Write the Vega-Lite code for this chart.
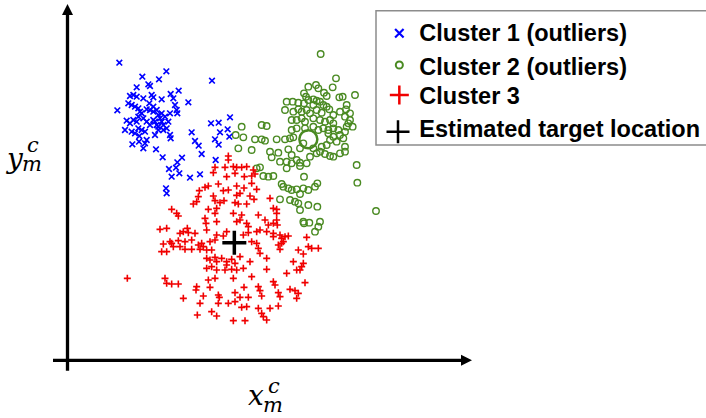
{
  "$schema": "https://vega.github.io/schema/vega-lite/v6.json",
  "width": 706,
  "height": 418,
  "padding": 0,
  "autosize": {"type": "none"},
  "background": "white",
  "config": {"view": {"stroke": null}},
  "datasets": {
    "blue": [
      {"x":58,"y":38},{"x":127,"y":80},{"x":199,"y":64},{"x":177,"y":88},{"x":110,"y":112},{"x":145,"y":103},{"x":150,"y":108},{"x":336,"y":92},{"x":236,"y":122},{"x":265,"y":157},
      {"x":52,"y":181},{"x":90,"y":138},{"x":100,"y":135},{"x":110,"y":140},{"x":130,"y":145},{"x":155,"y":135},{"x":160,"y":142},{"x":185,"y":148},{"x":212,"y":132},{"x":220,"y":145},
      {"x":225,"y":165},{"x":230,"y":180},{"x":232,"y":190},{"x":85,"y":160},{"x":95,"y":165},{"x":105,"y":170},{"x":115,"y":175},{"x":120,"y":185},{"x":125,"y":190},{"x":140,"y":178},
      {"x":150,"y":180},{"x":160,"y":185},{"x":170,"y":180},{"x":175,"y":195},{"x":185,"y":190},{"x":195,"y":200},{"x":210,"y":190},{"x":80,"y":212},{"x":90,"y":220},{"x":100,"y":210},
      {"x":110,"y":215},{"x":115,"y":200},{"x":130,"y":205},{"x":140,"y":215},{"x":150,"y":225},{"x":160,"y":210},{"x":165,"y":215},{"x":170,"y":225},{"x":175,"y":230},{"x":180,"y":205},
      {"x":185,"y":215},{"x":190,"y":225},{"x":200,"y":235},{"x":205,"y":215},{"x":75,"y":240},{"x":95,"y":245},{"x":105,"y":250},{"x":115,"y":235},{"x":125,"y":240},{"x":135,"y":245},
      {"x":140,"y":270},{"x":165,"y":255},{"x":175,"y":240},{"x":190,"y":240},{"x":210,"y":255},{"x":212,"y":265},{"x":97,"y":283},{"x":117,"y":275},{"x":130,"y":295},{"x":135,"y":280},
      {"x":168,"y":298},{"x":188,"y":322},{"x":246,"y":323},{"x":232,"y":337},{"x":228,"y":353},{"x":207,"y":357},{"x":215,"y":380},{"x":238,"y":370},{"x":270,"y":383},{"x":300,"y":373},
      {"x":198,"y":415},{"x":200,"y":430},{"x":275,"y":247},{"x":285,"y":273},{"x":296,"y":287},{"x":305,"y":312},{"x":333,"y":220},{"x":356,"y":218},{"x":390,"y":202},{"x":360,"y":247},
      {"x":383,"y":238},{"x":388,"y":260},{"x":345,"y":268},{"x":356,"y":284},{"x":347,"y":330},{"x":118,"y":258},{"x":148,"y":160},{"x":160,"y":170}
    ],
    "green": [
      {"x":662,"y":12},{"x":708,"y":85},{"x":698,"y":112},{"x":625,"y":110},{"x":648,"y":105},{"x":655,"y":115},{"x":672,"y":128},{"x":680,"y":138},{"x":718,"y":142},{"x":728,"y":140},
      {"x":765,"y":135},{"x":612,"y":130},{"x":618,"y":140},{"x":625,"y":150},{"x":640,"y":148},{"x":650,"y":152},{"x":660,"y":155},{"x":670,"y":165},{"x":680,"y":170},{"x":560,"y":155},
      {"x":578,"y":155},{"x":595,"y":158},{"x":612,"y":160},{"x":640,"y":165},{"x":555,"y":180},{"x":580,"y":185},{"x":595,"y":178},{"x":605,"y":185},{"x":620,"y":180},{"x":630,"y":190},
      {"x":650,"y":180},{"x":665,"y":188},{"x":688,"y":178},{"x":740,"y":165},{"x":738,"y":178},{"x":750,"y":190},{"x":735,"y":200},{"x":720,"y":185},{"x":700,"y":195},{"x":575,"y":210},
      {"x":590,"y":210},{"x":605,"y":205},{"x":615,"y":215},{"x":640,"y":205},{"x":660,"y":210},{"x":675,"y":215},{"x":690,"y":210},{"x":700,"y":220},{"x":750,"y":210},{"x":758,"y":230},
      {"x":745,"y":220},{"x":575,"y":240},{"x":590,"y":235},{"x":615,"y":235},{"x":640,"y":230},{"x":655,"y":240},{"x":670,"y":235},{"x":685,"y":240},{"x":700,"y":235},{"x":715,"y":240},
      {"x":735,"y":245},{"x":740,"y":230},{"x":720,"y":255},{"x":700,"y":260},{"x":685,"y":250},{"x":690,"y":270},{"x":710,"y":275},{"x":730,"y":265},{"x":680,"y":285},{"x":665,"y":290},
      {"x":640,"y":295},{"x":600,"y":295},{"x":610,"y":280},{"x":660,"y":305},{"x":675,"y":312},{"x":690,"y":318},{"x":700,"y":320},{"x":720,"y":310},{"x":735,"y":290},{"x":735,"y":305},
      {"x":425,"y":230},{"x":485,"y":225},{"x":500,"y":228},{"x":407,"y":255},{"x":430,"y":262},{"x":465,"y":268},{"x":485,"y":268},{"x":495,"y":272},{"x":530,"y":268},{"x":555,"y":268},
      {"x":570,"y":265},{"x":580,"y":262},{"x":415,"y":295},{"x":455,"y":300},{"x":510,"y":305},{"x":535,"y":308},{"x":565,"y":298},{"x":575,"y":315},{"x":515,"y":322},{"x":540,"y":335},
      {"x":560,"y":335},{"x":575,"y":340},{"x":590,"y":330},{"x":600,"y":338},{"x":620,"y":340},{"x":630,"y":320},{"x":650,"y":310},{"x":470,"y":355},{"x":480,"y":352},{"x":490,"y":378},
      {"x":505,"y":380},{"x":520,"y":378},{"x":545,"y":402},{"x":550,"y":410},{"x":565,"y":415},{"x":575,"y":420},{"x":590,"y":418},{"x":600,"y":432},{"x":610,"y":415},{"x":625,"y":420},
      {"x":645,"y":410},{"x":652,"y":400},{"x":612,"y":380},{"x":770,"y":345},{"x":772,"y":398},{"x":540,"y":448},{"x":570,"y":450},{"x":585,"y":455},{"x":595,"y":460},{"x":600,"y":480},
      {"x":625,"y":465},{"x":652,"y":470},{"x":610,"y":515},{"x":612,"y":520},{"x":628,"y":518},{"x":660,"y":515},{"x":655,"y":530},{"x":645,"y":545},{"x":828,"y":483},{"x":560,"y":355},
      {"x":600,"y":348}
    ],
    "red": [
      {"x":385,"y":318},{"x":385,"y":330},{"x":345,"y":352},{"x":375,"y":352},{"x":400,"y":350},{"x":410,"y":352},{"x":425,"y":352},{"x":440,"y":350},{"x":460,"y":360},{"x":340,"y":368},
      {"x":380,"y":380},{"x":405,"y":370},{"x":433,"y":380},{"x":455,"y":378},{"x":465,"y":372},{"x":325,"y":408},{"x":355,"y":402},{"x":410,"y":408},{"x":432,"y":414},{"x":455,"y":400},
      {"x":470,"y":418},{"x":298,"y":422},{"x":315,"y":412},{"x":340,"y":438},{"x":370,"y":422},{"x":385,"y":420},{"x":410,"y":436},{"x":420,"y":430},{"x":450,"y":438},{"x":295,"y":440},
      {"x":280,"y":462},{"x":290,"y":455},{"x":345,"y":452},{"x":360,"y":458},{"x":372,"y":452},{"x":405,"y":458},{"x":415,"y":462},{"x":440,"y":462},{"x":462,"y":448},{"x":510,"y":445},
      {"x":520,"y":475},{"x":530,"y":478},{"x":530,"y":490},{"x":215,"y":478},{"x":230,"y":490},{"x":235,"y":498},{"x":325,"y":478},{"x":350,"y":475},{"x":345,"y":490},{"x":400,"y":490},
      {"x":425,"y":495},{"x":420,"y":510},{"x":475,"y":495},{"x":495,"y":510},{"x":505,"y":525},{"x":520,"y":520},{"x":530,"y":510},{"x":532,"y":525},{"x":318,"y":520},{"x":315,"y":505},
      {"x":350,"y":515},{"x":410,"y":515},{"x":440,"y":520},{"x":445,"y":530},{"x":180,"y":538},{"x":200,"y":535},{"x":240,"y":550},{"x":250,"y":545},{"x":262,"y":535},{"x":265,"y":548},
      {"x":285,"y":550},{"x":320,"y":540},{"x":350,"y":555},{"x":380,"y":545},{"x":430,"y":555},{"x":445,"y":548},{"x":470,"y":545},{"x":480,"y":540},{"x":500,"y":545},{"x":520,"y":550},
      {"x":540,"y":555},{"x":545,"y":565},{"x":555,"y":560},{"x":565,"y":558},{"x":550,"y":575},{"x":545,"y":580},{"x":535,"y":585},{"x":520,"y":560},{"x":210,"y":575},{"x":215,"y":580},
      {"x":235,"y":572},{"x":255,"y":575},{"x":275,"y":570},{"x":295,"y":585},{"x":305,"y":580},{"x":310,"y":590},{"x":330,"y":575},{"x":345,"y":570},{"x":370,"y":558},{"x":455,"y":575},
      {"x":190,"y":582},{"x":185,"y":605},{"x":200,"y":605},{"x":220,"y":590},{"x":240,"y":590},{"x":255,"y":598},{"x":275,"y":598},{"x":300,"y":598},{"x":320,"y":600},{"x":335,"y":600},
      {"x":475,"y":595},{"x":480,"y":610},{"x":470,"y":580},{"x":540,"y":598},{"x":595,"y":600},{"x":610,"y":612},{"x":625,"y":590},{"x":635,"y":595},{"x":655,"y":595},{"x":620,"y":562},
      {"x":320,"y":625},{"x":330,"y":630},{"x":345,"y":622},{"x":350,"y":635},{"x":365,"y":625},{"x":380,"y":635},{"x":395,"y":628},{"x":405,"y":640},{"x":420,"y":620},{"x":450,"y":635},
      {"x":500,"y":625},{"x":580,"y":635},{"x":320,"y":655},{"x":335,"y":650},{"x":350,"y":660},{"x":375,"y":660},{"x":380,"y":645},{"x":395,"y":658},{"x":410,"y":660},{"x":430,"y":655},
      {"x":500,"y":658},{"x":560,"y":670},{"x":590,"y":660},{"x":600,"y":660},{"x":605,"y":650},{"x":610,"y":640},{"x":82,"y":685},{"x":195,"y":685},{"x":200,"y":700},{"x":215,"y":702},
      {"x":235,"y":702},{"x":325,"y":690},{"x":345,"y":685},{"x":400,"y":685},{"x":455,"y":680},{"x":520,"y":695},{"x":525,"y":705},{"x":615,"y":698},{"x":290,"y":710},{"x":288,"y":720},
      {"x":330,"y":712},{"x":355,"y":735},{"x":358,"y":742},{"x":405,"y":728},{"x":420,"y":742},{"x":432,"y":712},{"x":445,"y":742},{"x":475,"y":710},{"x":480,"y":722},{"x":485,"y":738},
      {"x":535,"y":728},{"x":540,"y":740},{"x":570,"y":718},{"x":585,"y":722},{"x":595,"y":730},{"x":590,"y":745},{"x":250,"y":745},{"x":310,"y":738},{"x":300,"y":760},{"x":335,"y":785},
      {"x":350,"y":798},{"x":355,"y":760},{"x":385,"y":760},{"x":405,"y":755},{"x":425,"y":772},{"x":440,"y":770},{"x":475,"y":775},{"x":485,"y":790},{"x":490,"y":800},{"x":510,"y":775},
      {"x":535,"y":768},{"x":292,"y":795},{"x":400,"y":812},{"x":435,"y":812},{"x":500,"y":810}
    ],
    "axes": [
      {"x":-97.5,"y":962,"x2":-97.5,"y2":-115},
      {"x":-141,"y":931,"x2":1090,"y2":931}
    ],
    "arrowUp": [{"x":-97.5,"y":-121.5}],
    "arrowRight": [{"x":1099.5,"y":931}],
    "target": [{"x":403,"y":578}],
    "center2": [{"x":625,"y":268}],
    "legbox": [{"x":828,"y":-118,"x2":1830,"y2":285}],
    "leg1": [{"k":"Cluster 1 (outliers)","x":898,"y":-50}],
    "leg2": [{"k":"Cluster 2 (outliers)","x":898,"y":45}],
    "leg3": [{"k":"Cluster 3","x":898,"y":135}],
    "leg4": [{"k":"Estimated target location","x":894,"y":245}],
    "legtxt": [
      {"label":"Cluster 1 (outliers)","x":958,"y":-28},
      {"label":"Cluster 2 (outliers)","x":958,"y":75},
      {"label":"Cluster 3","x":958,"y":162},
      {"label":"Estimated target location","x":958,"y":260}
    ],
    "mainlbl": [
      {"t":"x","x":444,"y":1065},
      {"t":"y","x":-279,"y":354}
    ],
    "scriptlbl": [
      {"t":"m","x":489,"y":1086},
      {"t":"c","x":504,"y":1029},
      {"t":"m","x":-234,"y":363},
      {"t":"c","x":-219,"y":306}
    ]
  },
  "encoding": {
    "x": {"field":"x","type":"quantitative","scale":{"domain":[-300,1818],"nice":false,"zero":false},"axis":null},
    "y": {"field":"y","type":"quantitative","scale":{"domain":[-150,1104],"reverse":true,"nice":false,"zero":false},"axis":null}
  },
  "layer": [
    {
      "data": {"name":"axes"},
      "mark": {"type":"rule","strokeWidth":3.3,"color":"black"},
      "encoding": {"x2":{"field":"x2"},"y2":{"field":"y2"}}
    },
    {
      "data": {"name":"arrowUp"},
      "mark": {"type":"point","shape":"M0,-1L-1,1L1,1Z","filled":true,"color":"black","opacity":1,"size":121}
    },
    {
      "data": {"name":"arrowRight"},
      "mark": {"type":"point","shape":"M1,0L-1,-1L-1,1Z","filled":true,"color":"black","opacity":1,"size":121}
    },
    {
      "data": {"name":"green"},
      "mark": {"type":"point","shape":"circle","filled":false,"color":"#4A8A22","opacity":1,"size":42,"strokeWidth":1.4}
    },
    {
      "data": {"name":"center2"},
      "mark": {"type":"point","shape":"circle","filled":false,"color":"#4A8A22","opacity":1,"size":324,"strokeWidth":2.5}
    },
    {
      "data": {"name":"blue"},
      "mark": {"type":"point","shape":"M-1,-1L1,1M-1,1L1,-1","filled":false,"color":"#0000FF","opacity":1,"size":32,"strokeWidth":1.6}
    },
    {
      "data": {"name":"red"},
      "mark": {"type":"point","shape":"M-1,0L1,0M0,-1L0,1","filled":false,"color":"#F00000","opacity":1,"size":49,"strokeWidth":1.6}
    },
    {
      "data": {"name":"target"},
      "mark": {"type":"point","shape":"M-1,0L1,0M0,-1L0,1","filled":false,"color":"black","opacity":1,"size":576,"strokeWidth":3.5}
    },
    {
      "data": {"name":"legbox"},
      "mark": {"type":"rect","fill":"white","stroke":"#8c8c8c","strokeWidth":1.5},
      "encoding": {"x2":{"field":"x2"},"y2":{"field":"y2"}}
    },
    {
      "data": {"name":"leg1"},
      "mark": {"type":"point","shape":"M-1,-1L1,1M-1,1L1,-1","filled":false,"color":"#0000FF","opacity":1,"size":72,"strokeWidth":2.2}
    },
    {
      "data": {"name":"leg2"},
      "mark": {"type":"point","shape":"circle","filled":false,"color":"#4A8A22","opacity":1,"size":50,"strokeWidth":2}
    },
    {
      "data": {"name":"leg3"},
      "mark": {"type":"point","shape":"M-1,0L1,0M0,-1L0,1","filled":false,"color":"#F00000","opacity":1,"size":361,"strokeWidth":2.5}
    },
    {
      "data": {"name":"leg4"},
      "mark": {"type":"point","shape":"M-1,0L1,0M0,-1L0,1","filled":false,"color":"#000000","opacity":1,"size":529,"strokeWidth":2.5}
    },
    {
      "data": {"name":"legtxt"},
      "mark": {"type":"text","align":"left","baseline":"alphabetic","font":"Liberation Sans","fontWeight":"bold","fontSize":23.5,"color":"black"},
      "encoding": {"text":{"field":"label"}}
    },
    {
      "data": {"name":"mainlbl"},
      "mark": {"type":"text","align":"left","baseline":"alphabetic","font":"DejaVu Serif","fontStyle":"italic","fontSize":28,"color":"black"},
      "encoding": {"text":{"field":"t"}}
    },
    {
      "data": {"name":"scriptlbl"},
      "mark": {"type":"text","align":"left","baseline":"alphabetic","font":"DejaVu Serif","fontStyle":"italic","fontSize":21,"color":"black"},
      "encoding": {"text":{"field":"t"}}
    }
  ]
}
